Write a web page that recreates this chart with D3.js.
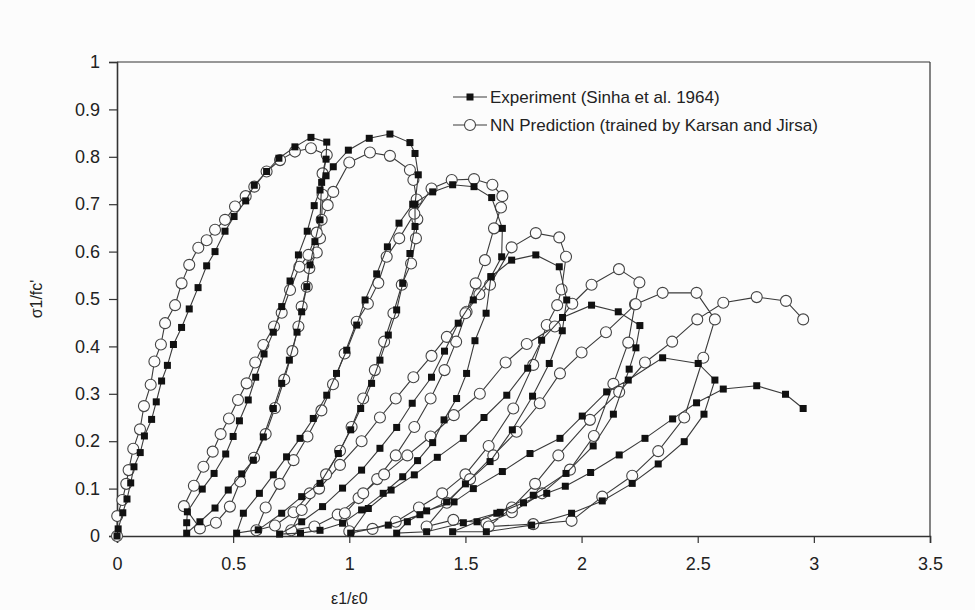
<!DOCTYPE html>
<html>
<head>
<meta charset="utf-8">
<script src="https://cdn.jsdelivr.net/npm/d3@7"></script>
<style>
  html, body { margin: 0; padding: 0; background: #fcfcfc; }
  svg { display: block; }
  text { font-family: "Liberation Sans", Arial, Helvetica, sans-serif; fill: #222; }
</style>
</head>
<body>
<svg id="chart" width="975" height="610"></svg>
<script>
// Normalised strain / stress pairs, cyclic compression of concrete
const experimentPoints = [
  // envelope up to first unloading
  [0,0],[0.005,0.015],[0.025,0.049],[0.043,0.078],[0.059,0.112],[0.073,0.146],[0.1,0.176],[0.118,0.211],
  [0.149,0.246],[0.169,0.283],[0.192,0.327],[0.217,0.36],[0.243,0.404],[0.278,0.44],[0.311,0.479],
  [0.349,0.524],[0.386,0.57],[0.422,0.6],[0.465,0.643],[0.504,0.674],[0.554,0.707],[0.591,0.74],
  [0.644,0.769],[0.697,0.797],[0.766,0.821],[0.835,0.841],[0.903,0.831],
  // cycle 1
  [0.9,0.795],[0.881,0.746],[0.874,0.667],[0.852,0.621],[0.831,0.572],[0.817,0.526],[0.795,0.473],
  [0.775,0.43],[0.742,0.371],[0.709,0.322],[0.673,0.269],[0.63,0.209],[0.587,0.16],[0.537,0.131],
  [0.479,0.097],[0.422,0.059],[0.357,0.03],[0.3,0.006],
  [0.3,0.028],[0.303,0.051],[0.367,0.099],[0.418,0.132],[0.468,0.173],[0.5,0.21],[0.527,0.243],
  [0.565,0.287],[0.597,0.335],[0.633,0.384],[0.673,0.43],[0.709,0.484],[0.745,0.538],[0.781,0.593],
  [0.819,0.643],[0.849,0.697],[0.874,0.73],[0.9,0.76],[0.931,0.779],
  [0.996,0.814],[1.086,0.839],[1.175,0.848],[1.261,0.83],[1.283,0.807],[1.297,0.762],
  // cycle 2
  [1.283,0.7],[1.283,0.653],[1.261,0.596],[1.23,0.533],[1.204,0.477],[1.168,0.424],[1.132,0.371],
  [1.096,0.322],[1.049,0.269],[1.006,0.224],[0.953,0.174],[0.874,0.111],[0.795,0.083],[0.709,0.048],
  [0.608,0.013],[0.515,0.006],
  [0.544,0.048],[0.613,0.09],[0.673,0.129],[0.73,0.167],[0.788,0.206],[0.845,0.248],[0.903,0.297],
  [0.945,0.343],[0.989,0.392],[1.032,0.445],[1.068,0.498],[1.118,0.553],[1.164,0.61],[1.214,0.66],
  [1.273,0.7],[1.359,0.726],[1.445,0.741],[1.537,0.737],[1.613,0.714],[1.659,0.649],
  // cycle 3
  [1.656,0.589],[1.61,0.547],[1.589,0.47],[1.541,0.412],[1.505,0.343],[1.462,0.29],[1.408,0.245],
  [1.359,0.197],[1.294,0.159],[1.23,0.125],[1.146,0.09],[1.053,0.055],[0.971,0.027],[0.874,0.012],
  [0.79,0.006],[0.7,0.004],
  [0.795,0.03],[0.885,0.062],[0.971,0.101],[1.053,0.139],[1.132,0.185],[1.204,0.229],[1.271,0.28],
  [1.354,0.335],[1.41,0.39],[1.469,0.449],[1.534,0.498],[1.61,0.547],[1.699,0.582],[1.803,0.593],
  [1.904,0.568],
  // cycle 4
  [1.936,0.498],[1.917,0.433],[1.861,0.364],[1.789,0.295],[1.702,0.224],[1.606,0.157],[1.5,0.11],
  [1.419,0.072],[1.304,0.045],[1.168,0.023],[1.006,0.006],
  [1.082,0.058],[1.18,0.097],[1.28,0.129],[1.379,0.166],[1.491,0.206],[1.58,0.25],[1.678,0.297],
  [1.768,0.354],[1.828,0.413],[1.918,0.461],[2.043,0.487],[2.158,0.473],[2.251,0.444],
  // cycle 5
  [2.234,0.397],[2.205,0.352],[2.137,0.257],[2.05,0.19],[1.933,0.132],[1.792,0.086],[1.635,0.048],
  [1.491,0.028],[1.333,0.009],[1.204,0.006],
  [1.25,0.03],[1.333,0.053],[1.451,0.072],[1.534,0.1],[1.659,0.136],[1.778,0.174],[1.907,0.206],
  [2.003,0.253],[2.108,0.304],[2.201,0.329],[2.349,0.376],[2.502,0.364],[2.574,0.329],
  // cycle 6
  [2.527,0.257],[2.442,0.199],[2.33,0.152],[2.218,0.111],[2.089,0.074],[1.957,0.048],[1.785,0.023],
  [1.59,0.009],[1.445,0.009],
  [1.55,0.03],[1.65,0.05],[1.75,0.07],[1.85,0.09],[1.93,0.105],[2.039,0.134],[2.162,0.171],
  [2.273,0.206],[2.392,0.247],[2.495,0.281],[2.61,0.31],[2.754,0.317],[2.878,0.299],[2.954,0.269]
];

const predictionPoints = [
  [0,0],[0.001,0.042],[0.023,0.076],[0.04,0.11],[0.05,0.139],[0.07,0.184],[0.099,0.225],[0.116,0.274],
  [0.145,0.319],[0.161,0.368],[0.189,0.404],[0.207,0.449],[0.25,0.487],[0.278,0.533],[0.311,0.572],
  [0.35,0.608],[0.386,0.624],[0.422,0.646],[0.465,0.667],[0.508,0.695],[0.554,0.717],[0.591,0.737],
  [0.644,0.769],[0.702,0.793],[0.766,0.811],[0.835,0.818],[0.903,0.804],
  // cycle 1
  [0.885,0.765],[0.885,0.72],[0.881,0.667],[0.874,0.628],[0.86,0.598],[0.828,0.565],[0.817,0.526],
  [0.795,0.484],[0.781,0.442],[0.755,0.39],[0.72,0.33],[0.68,0.27],[0.64,0.215],[0.59,0.165],
  [0.53,0.115],[0.486,0.062],[0.426,0.028],[0.357,0.016],
  [0.288,0.063],[0.331,0.106],[0.372,0.146],[0.412,0.178],[0.446,0.215],[0.482,0.248],[0.521,0.287],
  [0.558,0.322],[0.595,0.366],[0.63,0.403],[0.676,0.442],[0.709,0.471],[0.745,0.519],[0.785,0.568],
  [0.824,0.593],[0.86,0.64],[0.907,0.698],[0.931,0.726],
  [1.0,0.788],[1.089,0.809],[1.175,0.802],[1.261,0.772],[1.276,0.751],
  // cycle 2
  [1.29,0.71],[1.293,0.668],[1.287,0.628],[1.266,0.575],[1.226,0.53],[1.19,0.47],[1.15,0.41],
  [1.11,0.35],[1.06,0.29],[1.01,0.23],[0.96,0.18],[0.9,0.13],[0.83,0.09],[0.76,0.05],[0.68,0.022],
  [0.6,0.012],[0.64,0.06],[0.7,0.11],[0.76,0.16],[0.82,0.21],[0.88,0.265],[0.93,0.32],[0.98,0.385],
  [1.032,0.452],[1.08,0.49],[1.125,0.534],[1.161,0.589],[1.215,0.628],[1.28,0.68],
  [1.354,0.733],[1.441,0.751],[1.537,0.753],[1.616,0.741],[1.659,0.717],[1.653,0.693],
  // cycle 3
  [1.623,0.649],[1.584,0.582],[1.544,0.533],[1.505,0.473],[1.46,0.41],[1.41,0.35],[1.35,0.29],
  [1.28,0.23],[1.2,0.17],[1.12,0.12],[1.04,0.08],[0.95,0.045],[0.85,0.02],[0.75,0.012],
  [0.795,0.055],[0.87,0.1],[0.96,0.15],[1.053,0.2],[1.132,0.25],[1.2,0.29],[1.276,0.335],
  [1.354,0.38],[1.42,0.42],[1.5,0.47],[1.56,0.51],[1.606,0.53],[1.699,0.609],[1.803,0.639],
  [1.904,0.63],[1.933,0.589],
  // cycle 4
  [1.914,0.52],[1.895,0.487],[1.85,0.445],[1.792,0.361],[1.706,0.269],[1.6,0.19],[1.5,0.13],
  [1.4,0.09],[1.3,0.06],[1.2,0.03],[1.1,0.015],[1.0,0.01],
  [0.981,0.048],[1.06,0.09],[1.15,0.13],[1.25,0.17],[1.35,0.21],[1.45,0.255],[1.562,0.3],
  [1.673,0.366],[1.764,0.405],[1.885,0.442],[1.96,0.49],[2.043,0.53],[2.161,0.563],[2.249,0.535],
  [2.23,0.489],
  // cycle 5
  [2.201,0.408],[2.137,0.321],[2.053,0.211],[1.95,0.14],[1.83,0.09],[1.7,0.05],[1.59,0.027],
  [1.448,0.034],[1.333,0.02],
  [1.42,0.07],[1.52,0.12],[1.62,0.17],[1.72,0.22],[1.82,0.28],[1.907,0.343],[2.0,0.387],
  [2.105,0.43],[2.233,0.489],[2.349,0.513],[2.495,0.513],[2.574,0.457],
  // cycle 6
  [2.524,0.376],[2.442,0.25],[2.33,0.179],[2.218,0.127],[2.089,0.083],[1.957,0.032],[1.792,0.025],
  [1.6,0.02],
  [1.7,0.06],[1.8,0.11],[1.9,0.17],[2.036,0.245],[2.162,0.304],[2.273,0.366],[2.39,0.41],
  [2.498,0.457],[2.61,0.492],[2.754,0.504],[2.88,0.496],[2.954,0.457]
];

const xTicks = [0, 0.5, 1, 1.5, 2, 2.5, 3, 3.5];
const yTicks = [0, 0.1, 0.2, 0.3, 0.4, 0.5, 0.6, 0.7, 0.8, 0.9, 1];
const legendLabels = ["Experiment (Sinha et al. 1964)", "NN Prediction (trained by Karsan and Jirsa)"];
const xTitle = "ε1/ε0";
const yTitle = "σ1/fc'";

const svg = d3.select("#chart");
const plot = { left: 117, right: 930, top: 62, bottom: 536 };

const x = d3.scaleLinear().domain([0, 3.5]).range([plot.left, plot.right]);
const y = d3.scaleLinear().domain([0, 1]).range([plot.bottom, plot.top]);

const axisColor = "#333";
const paper = "#fcfcfc";

// frame: top and right borders
svg.append("line").attr("x1", plot.left).attr("x2", plot.right).attr("y1", plot.top).attr("y2", plot.top)
  .attr("stroke", axisColor).attr("stroke-width", 1.2);
svg.append("line").attr("x1", plot.right).attr("x2", plot.right).attr("y1", plot.top).attr("y2", plot.bottom)
  .attr("stroke", axisColor).attr("stroke-width", 1.2);

const xAxis = svg.append("g").attr("transform", `translate(0,${plot.bottom})`)
  .call(d3.axisBottom(x).tickValues(xTicks).tickSize(7).tickPadding(14).tickFormat(d3.format("")));
const yAxis = svg.append("g").attr("transform", `translate(${plot.left},0)`)
  .call(d3.axisLeft(y).tickValues(yTicks).tickSize(8).tickPadding(9).tickFormat(d3.format("")));

[xAxis, yAxis].forEach(g => {
  g.select(".domain").attr("stroke", axisColor).attr("stroke-width", 1.6);
  g.selectAll(".tick line").attr("stroke", axisColor).attr("stroke-width", 1.2);
  g.selectAll(".tick text").attr("font-size", 18).attr("fill", "#222")
    .attr("font-family", "'Liberation Sans', Arial, sans-serif");
});

svg.append("text").attr("x", x(1)).attr("y", 604).attr("text-anchor", "middle")
  .attr("font-size", 16).text(xTitle);
svg.append("text").attr("transform", `translate(42,${y(0.5)}) rotate(-90)`).attr("text-anchor", "middle")
  .attr("font-size", 16).text(yTitle);

const lineGen = d3.line().x(d => x(d[0])).y(d => y(d[1]));
const lineColor = "#3a3a3a";

// prediction series (open circles drawn over their own line)
svg.append("path").datum(predictionPoints).attr("d", lineGen)
  .attr("fill", "none").attr("stroke", lineColor).attr("stroke-width", 1.1);
svg.append("g").selectAll("circle").data(predictionPoints).join("circle")
  .attr("cx", d => x(d[0])).attr("cy", d => y(d[1])).attr("r", 5.5)
  .attr("fill", paper).attr("stroke", "#444").attr("stroke-width", 1.1);

// experiment series (filled squares)
svg.append("path").datum(experimentPoints).attr("d", lineGen)
  .attr("fill", "none").attr("stroke", lineColor).attr("stroke-width", 1.1);
svg.append("g").selectAll("rect").data(experimentPoints).join("rect")
  .attr("x", d => x(d[0]) - 3.5).attr("y", d => y(d[1]) - 3.5).attr("width", 7).attr("height", 7)
  .attr("fill", "#111");

// legend
const legend = svg.append("g");
legendLabels.forEach((label, i) => {
  const ly = 97 + i * 28;
  legend.append("line").attr("x1", 453).attr("x2", 487).attr("y1", ly).attr("y2", ly)
    .attr("stroke", lineColor).attr("stroke-width", 1.1);
  if (i === 0) {
    legend.append("rect").attr("x", 466.5).attr("y", ly - 3.5).attr("width", 7).attr("height", 7).attr("fill", "#111");
  } else {
    legend.append("circle").attr("cx", 470).attr("cy", ly).attr("r", 5.5)
      .attr("fill", paper).attr("stroke", "#444").attr("stroke-width", 1.1);
  }
  legend.append("text").attr("x", 490).attr("y", ly + 6).attr("font-size", 17).text(label);
});
</script>
</body>
</html>
